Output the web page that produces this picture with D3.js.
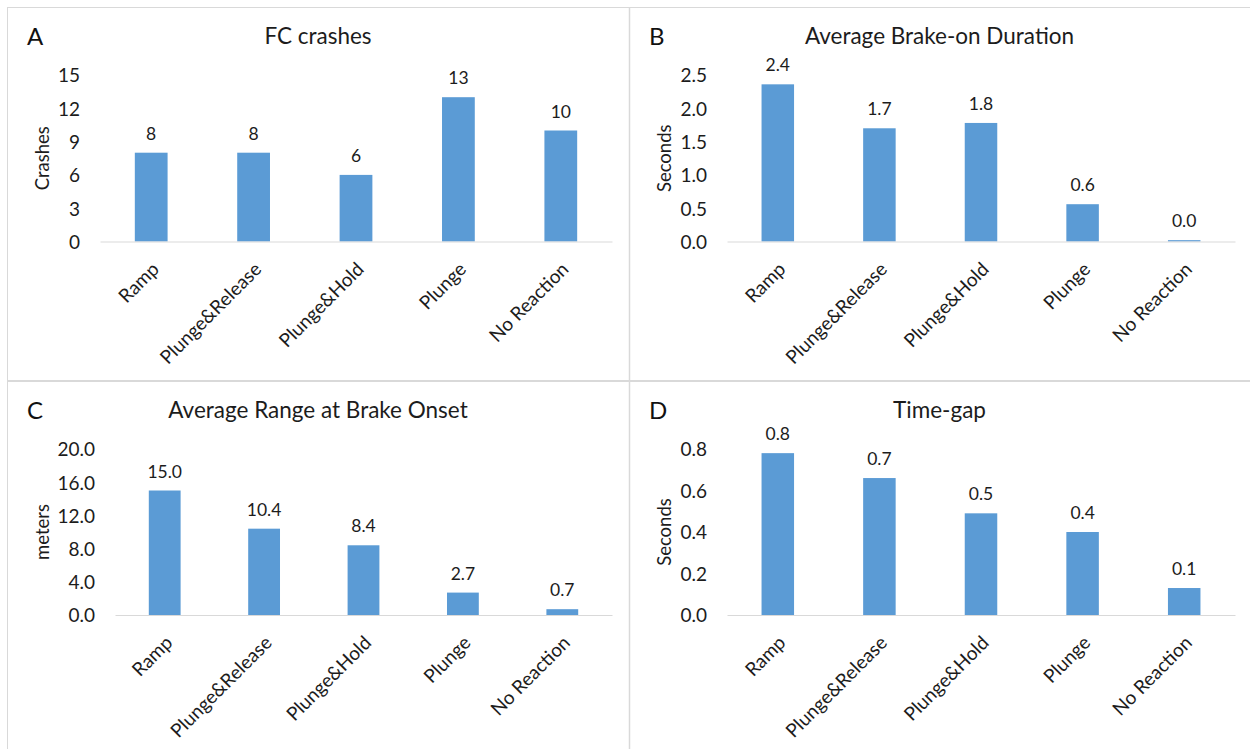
<!DOCTYPE html>
<html>
<head>
<meta charset="utf-8">
<script src="https://cdn.jsdelivr.net/npm/d3@7"></script>
<style>
  html, body { margin: 0; padding: 0; background: #fff; }
  svg { display: block; font-family: Lato, "Open Sans", sans-serif; }
</style>
</head>
<body>
<svg id="chart" width="1250" height="749"></svg>
<script>
// Braking response categories shared by all four panels
const categories = ["Ramp", "Plunge&Release", "Plunge&Hold", "Plunge", "No Reaction"];

// Panel A: forward-collision crashes
const fcCrashes = [8, 8, 6, 13, 10];
const crashTicks = [0, 3, 6, 9, 12, 15];

// Panel B: average brake-on duration (s)
const brakeOnDuration = [2.36, 1.70, 1.78, 0.56, 0.02];
const durationTicks = [0, 0.5, 1.0, 1.5, 2.0, 2.5];

// Panel C: average range at brake onset (m)
const rangeAtOnset = [15.0, 10.4, 8.4, 2.7, 0.7];
const rangeTicks = [0, 4, 8, 12, 16, 20];

// Panel D: time-gap (s)
const timeGap = [0.78, 0.66, 0.49, 0.40, 0.13];
const gapTicks = [0, 0.2, 0.4, 0.6, 0.8];

const panels = [
  { letter: "A", title: "FC crashes", yTitle: "Crashes", values: fcCrashes, ticks: crashTicks,
    fmt: d3.format("d"), box: [7, 7, 629, 381], plot: { x0: 100, x1: 612, base: 241.5, top: 75 } },
  { letter: "B", title: "Average Brake-on Duration", yTitle: "Seconds", values: brakeOnDuration, ticks: durationTicks,
    fmt: d3.format(".1f"), box: [629, 7, 1250, 381], plot: { x0: 727, x1: 1235, base: 241.5, top: 75 } },
  { letter: "C", title: "Average Range at Brake Onset", yTitle: "meters", values: rangeAtOnset, ticks: rangeTicks,
    fmt: d3.format(".1f"), box: [7, 381, 629, 749], plot: { x0: 115, x1: 612, base: 615, top: 449 } },
  { letter: "D", title: "Time-gap", yTitle: "Seconds", values: timeGap, ticks: gapTicks,
    fmt: d3.format(".1f"), box: [629, 381, 1250, 749], plot: { x0: 727, x1: 1235, base: 615, top: 449 } }
];

const svg = d3.select("#chart");
const textColor = "#1c1c1c";
const barColor = "#5B9BD5";
const lineColor = "#d9d9d9";
const fontStack = "Lato, 'Open Sans', sans-serif";

// Panel frames
svg.append("rect")
  .attr("x", 7.5).attr("y", 7.5).attr("width", 1250).attr("height", 760)
  .attr("fill", "none").attr("stroke", lineColor).attr("stroke-width", 1);
svg.append("line")
  .attr("x1", 629.5).attr("x2", 629.5).attr("y1", 7).attr("y2", 749)
  .attr("stroke", lineColor).attr("stroke-width", 1.5);
svg.append("line")
  .attr("x1", 7).attr("x2", 1250).attr("y1", 381).attr("y2", 381)
  .attr("stroke", lineColor).attr("stroke-width", 2);

panels.forEach(p => {
  const g = svg.append("g");
  const [bx0, by0, bx1] = p.box;
  const { x0, x1, base, top } = p.plot;

  const x = d3.scaleBand()
    .domain(categories)
    .range([x0, x1])
    .paddingInner(0.68)
    .paddingOuter(0.34);

  const y = d3.scaleLinear()
    .domain([0, d3.max(p.ticks)])
    .range([base, top]);

  // Panel letter and title
  g.append("text")
    .attr("x", bx0 + 20).attr("y", by0 + 38)
    .attr("font-size", 24).attr("fill", "#111")
    .text(p.letter);
  g.append("text")
    .attr("x", (bx0 + bx1) / 2).attr("y", by0 + 37)
    .attr("text-anchor", "middle")
    .attr("font-size", 22.5).attr("fill", textColor)
    .text(p.title);

  // Bars
  g.selectAll("rect.bar")
    .data(p.values)
    .join("rect")
    .attr("class", "bar")
    .attr("x", (d, i) => x(categories[i]))
    .attr("width", x.bandwidth())
    .attr("y", d => y(d))
    .attr("height", d => base - y(d))
    .attr("fill", barColor);

  // Value labels
  g.selectAll("text.value")
    .data(p.values)
    .join("text")
    .attr("class", "value")
    .attr("x", (d, i) => x(categories[i]) + x.bandwidth() / 2)
    .attr("y", d => y(d) - 13)
    .attr("text-anchor", "middle")
    .attr("font-size", 17.5).attr("fill", textColor)
    .text(d => p.fmt(d));

  // Y axis (labels only)
  const yAxis = g.append("g")
    .attr("transform", `translate(${x0},0)`)
    .call(d3.axisLeft(y).tickValues(p.ticks).tickFormat(p.fmt).tickSize(0).tickPadding(20));
  yAxis.select(".domain").remove();
  yAxis.selectAll("text")
    .attr("font-family", fontStack)
    .attr("font-size", 19).attr("fill", textColor)
    .attr("dy", "0.36em");

  // X axis with rotated category labels
  const xAxis = g.append("g")
    .attr("transform", `translate(0,${base})`)
    .call(d3.axisBottom(x).tickSize(0));
  xAxis.select(".domain")
    .attr("stroke", lineColor).attr("stroke-width", 1.2);
  xAxis.selectAll("text")
    .attr("font-family", fontStack)
    .attr("font-size", 19).attr("fill", textColor)
    .attr("text-anchor", "end")
    .attr("x", 0).attr("y", 0).attr("dy", 0)
    .attr("transform", "translate(9,29) rotate(-45)");

  // Y axis title
  g.append("text")
    .attr("transform", `translate(${bx0 + 42},${(base + top) / 2}) rotate(-90)`)
    .attr("text-anchor", "middle")
    .attr("font-size", 18.5).attr("fill", textColor)
    .text(p.yTitle);
});
</script>
</body>
</html>
